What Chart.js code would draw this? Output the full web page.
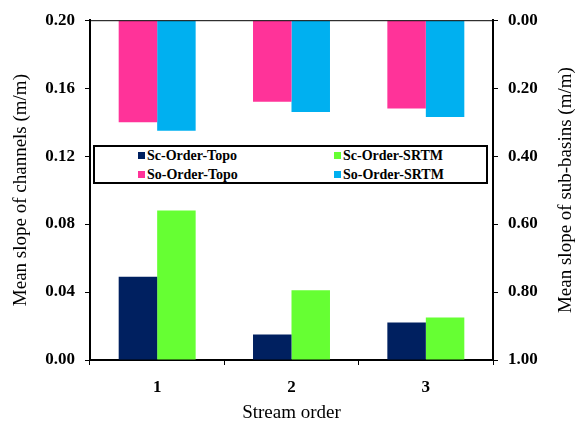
<!DOCTYPE html>
<html>
<head>
<meta charset="utf-8">
<script src="https://cdn.jsdelivr.net/npm/chart.js@4"></script>
<style>
  body { margin: 0; background: #fff; }
  #wrap { position: relative; width: 577px; height: 426px; }
  #legendBox {
    position: absolute; left: 93px; top: 145px; width: 391px; height: 35px;
    border: 2px solid #000; background: #fff;
    font: bold 14px "Liberation Serif", "Times New Roman", serif;
  }
  #legendList { list-style: none; margin: 0; padding: 0; }
  #legendList li { position: absolute; height: 19px; line-height: 19px; white-space: nowrap; color: #000; }
  #legendList .color-box { display: inline-block; width: 7px; height: 7px; margin-right: 2px; vertical-align: 1px; }
</style>
</head>
<body>
<div id="wrap">
  <canvas id="slopeChart" width="577" height="426"></canvas>
  <div id="legendBox"><ul id="legendList"></ul></div>
</div>
<script>
// Stream orders and mean slopes
const streamOrders = ['1', '2', '3'];
const seriesNames = ['Sc-Order-Topo', 'Sc-Order-SRTM', 'So-Order-Topo', 'So-Order-SRTM'];
const scTopo = [0.049, 0.015, 0.022];   // channels, left axis
const scSrtm = [0.088, 0.041, 0.025];
const soTopo = [0.30, 0.24, 0.26];      // sub-basins, right axis (reversed)
const soSrtm = [0.325, 0.27, 0.285];
const channelTicks = [0, 0.04, 0.08, 0.12, 0.16, 0.20];
const basinTicks = [0, 0.2, 0.4, 0.6, 0.8, 1.0];

const colors = ['#002060', '#66FF33', '#FF3399', '#00B0F0'];
const serif = '"Liberation Serif", "Times New Roman", serif';
const rightTitle = 'Mean slope of sub-basins (m/m)';

// top frame line + right axis title (reads bottom to top)
const frameExtras = {
  id: 'frameExtras',
  afterDraw(chart) {
    const { ctx, chartArea: a } = chart;
    ctx.save();
    ctx.strokeStyle = '#000';
    ctx.lineWidth = 1;
    ctx.beginPath();
    ctx.moveTo(a.left, a.top + 0.5);
    ctx.lineTo(a.right, a.top + 0.5);
    ctx.stroke();
    ctx.translate(chart.width - 11, (a.top + a.bottom) / 2);
    ctx.rotate(-Math.PI / 2);
    ctx.font = '19px ' + serif;
    ctx.fillStyle = '#000';
    ctx.textAlign = 'center';
    ctx.textBaseline = 'middle';
    ctx.fillText(rightTitle, 0, 0);
    ctx.restore();
  }
};

const tickFont = { family: serif, size: 17, weight: 'bold' };
const titleFont = { family: serif, size: 19 };

function ds(i, data, stack, axis) {
  return {
    label: seriesNames[i], data, stack, yAxisID: axis,
    backgroundColor: colors[i], borderWidth: 0,
    categoryPercentage: 0.573, barPercentage: 1.0
  };
}

const chart = new Chart(document.getElementById('slopeChart'), {
  type: 'bar',
  data: {
    labels: streamOrders,
    datasets: [
      ds(0, scTopo, 'topo', 'y'),
      ds(1, scSrtm, 'srtm', 'y'),
      ds(2, soTopo, 'topo', 'y2'),
      ds(3, soSrtm, 'srtm', 'y2')
    ]
  },
  options: {
    responsive: false,
    animation: false,
    layout: { padding: { top: 19, left: 0, right: 0, bottom: 0 } },
    plugins: { legend: { display: false }, tooltip: { enabled: false } },
    scales: {
      x: {
        grid: { drawOnChartArea: false, drawTicks: true, tickLength: 5, color: '#000', offset: true },
        border: { display: true, color: '#000', width: 2 },
        ticks: { color: '#000', font: tickFont, padding: 12 },
        title: { display: true, text: 'Stream order', color: '#000', font: titleFont, padding: { top: 0, bottom: 2 } },
        afterFit: s => { s.height = 66; }
      },
      y: {
        position: 'left',
        min: 0, max: 0.2,
        afterBuildTicks: s => { s.ticks = channelTicks.map(v => ({ value: v })); },
        grid: { drawOnChartArea: false, drawTicks: true, tickLength: 5, color: '#000' },
        border: { display: true, color: '#000', width: 2 },
        ticks: { color: '#000', font: tickFont, padding: 10, callback: v => v.toFixed(2) },
        title: { display: true, text: 'Mean slope of channels (m/m)', color: '#000', font: titleFont, padding: { top: 10, bottom: 0 } },
        afterFit: s => { s.width = 90; }
      },
      y2: {
        position: 'right',
        reverse: true,
        min: 0, max: 1,
        afterBuildTicks: s => { s.ticks = basinTicks.map(v => ({ value: v })); },
        grid: { drawOnChartArea: false, drawTicks: true, tickLength: 5, color: '#000' },
        border: { display: true, color: '#000', width: 2 },
        ticks: { color: '#000', font: tickFont, padding: 10, callback: v => v.toFixed(2) },
        afterFit: s => { s.width = 84; }
      }
    }
  },
  plugins: [frameExtras]
});

// Legend inside the plot, two columns
const legendList = document.getElementById('legendList');
const colLeft = [43, 239];
chart.data.datasets.forEach((d, i) => {
  const li = document.createElement('li');
  li.style.left = colLeft[i % 2] + 'px';
  li.style.top = (Math.floor(i / 2) * 19 - 1) + 'px';
  li.innerHTML = `<span class="color-box" style="background:${d.backgroundColor}"></span>${d.label}`;
  legendList.appendChild(li);
});
</script>
</body>
</html>
